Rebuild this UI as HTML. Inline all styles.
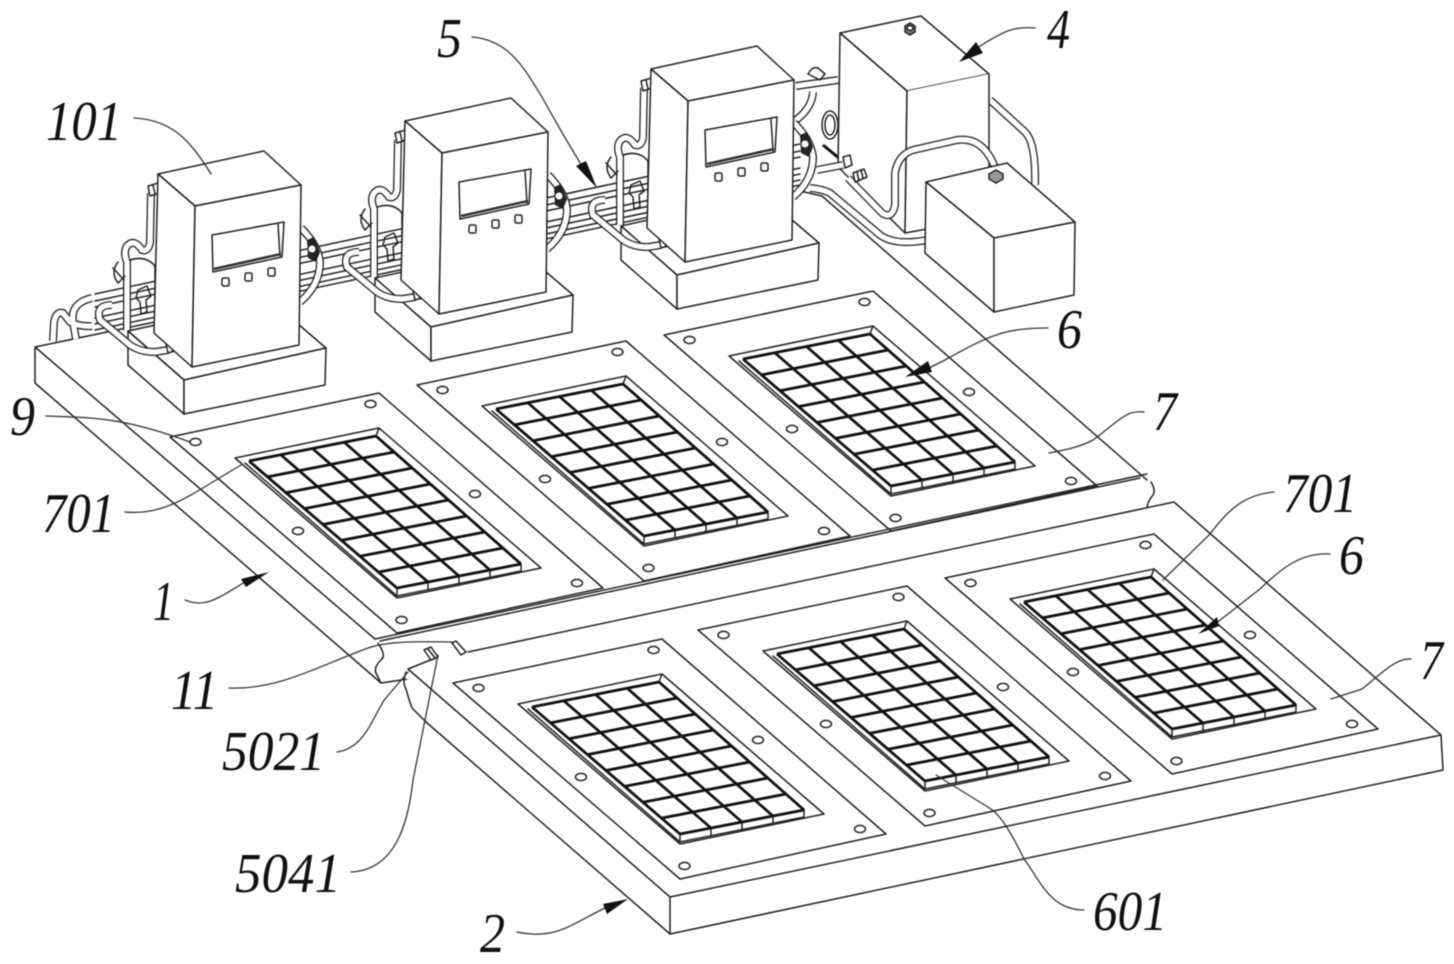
<!DOCTYPE html>
<html><head><meta charset="utf-8"><style>
html,body{margin:0;padding:0;background:#fff}
svg{display:block;filter:blur(.4px)}
.l{fill:none;stroke:#222;stroke-width:1.5;stroke-linejoin:round;stroke-linecap:round}
.w{fill:#fff;stroke:#222;stroke-width:1.5;stroke-linejoin:round}
.g{fill:none;stroke:#111;stroke-width:2.8}
.t{fill:none;stroke:#333;stroke-width:1.3;stroke-linecap:round}
text{font-family:"Liberation Serif",serif;font-style:italic;font-size:56px;fill:#111}
</style></head><body>
<svg width="1454" height="964" viewBox="0 0 1454 964" xmlns="http://www.w3.org/2000/svg">
<defs>
<g id="panel">
<polygon class="w" points="945,578 1154,534 1378,729 1172,774"/>
<polygon class="w" points="1010,599 1154,569 1316,709 1172,739"/>
<ellipse class="w" cx="970.5" cy="583" rx="5.5" ry="3.6" stroke-width="1.8"/>
<ellipse class="w" cx="1145.5" cy="545" rx="5.5" ry="3.6" stroke-width="1.8"/>
<ellipse class="w" cx="1250" cy="635" rx="5.5" ry="3.6" stroke-width="1.8"/>
<ellipse class="w" cx="1352" cy="724" rx="5.5" ry="3.6" stroke-width="1.8"/>
<ellipse class="w" cx="1176.5" cy="761" rx="5.5" ry="3.6" stroke-width="1.8"/>
<ellipse class="w" cx="1073" cy="672" rx="5.5" ry="3.6" stroke-width="1.8"/>
<path class="l" d="M1154,569 L1151,577 M1020,604 L1172,737 L1296,712 L1296,705 M1172,729 V737 M1203,723 V731 M1234,717 V725 M1265,711 V719"/>
<path class="g" d="M1024,602L1151,577M1042.5,617.9L1169.1,593M1061,633.8L1187.3,609M1079.5,649.6L1205.4,625M1098,665.5L1223.5,641M1116.5,681.4L1241.6,657M1135,697.3L1259.8,673M1153.5,713.1L1277.9,689M1172,729L1296,705"/>
<path class="g" d="M1024,602L1172,729M1055.75,595.75L1203,723M1087.5,589.5L1234,717M1119.25,583.25L1265,711M1151,577L1296,705"/>
</g>
<g id="cabpipe">
<path d="M151,193 L150,243 Q148,252 142,250 Q134,238 127,246 Q123,252 127,262 L127,330"/>
<path d="M112,305 Q95,305 100,320 L130,345 Q140,352 155,352 L168,350"/>
</g>
<g id="cabside">
<path d="M301,228 Q318,245 320,262 Q320,285 300,302"/>
</g>
<g id="cab">
<use href="#cabside" fill="none" stroke="#222" stroke-width="8"/>
<use href="#cabside" fill="none" stroke="#fff" stroke-width="5.4"/>
<polygon points="307,240 314,237 320,252 316,262 308,258" fill="#222"/>
<circle cx="312" cy="249" r="3.5" fill="#fff"/>
<polygon class="w" points="128,331 270,300 326,348 184,380"/>
<polygon class="w" points="128,331 184,380 184,414 128,365"/>
<polygon class="w" points="184,380 326,348 325,385 184,414"/>
<use href="#cabpipe" fill="none" stroke="#222" stroke-width="8"/>
<use href="#cabpipe" fill="none" stroke="#fff" stroke-width="5.4"/>
<path class="l" d="M118,262 Q110,272 118,283 L125,276 M130,260 Q146,255 155,266 V315 M113,268 L124,280"/>
<path class="l" d="M138,290 L147,286 L151,296 L146,300 L147,312 L141,314 L140,302 L136,298 Z"/>
<polygon class="w" points="166,344 182,340 186,347 168,353"/>
<path class="l" d="M171,343 L173,352 M176,342 L178,350 M181,340 L183,348"/>
<polygon class="w" points="148,186 162,182 165,191 150,196"/>
<path class="l" d="M153,185 L155,194 M158,184 L160,192"/>
<polygon class="w" points="158,174 264,151 301,185 195,206"/>
<polygon class="w" points="158,174 195,206 192,367 154,333"/>
<polygon class="w" points="195,206 301,185 299,345 192,367"/>
<polygon class="w" points="212,235 284,222 282,257 213,272"/>
<path class="l" d="M278,224 L280,256" />
<path d="M214,269 L281,254" stroke="#333" stroke-width="2.6" fill="none"/>
<rect class="w" x="222" y="278" width="7" height="8" rx="1.5" stroke-width="1.8"/>
<rect class="w" x="245" y="273" width="7" height="8" rx="1.5" stroke-width="1.8"/>
<rect class="w" x="268" y="268" width="7" height="8" rx="1.5" stroke-width="1.8"/>
</g>
<g id="tp">
<path d="M53,341 L54,322 Q56,311 63,313 L70,322 Q80,327 92,326"/>
<path d="M76,339 L73,322 Q70,303 92,298"/>
<path d="M796,120 Q812,108 813,92"/>
<path d="M990,100 L1025,132 Q1036,143 1035,185"/>
<path d="M796,86 L838,80"/>
</g>
<g id="tp2">
<path d="M848,178 L882,213 Q892,220 895,205 L895,173 Q898,155 913,150 L957,140 Q985,136 997,173"/>
<path d="M810,188 Q822,189 830,193 L880,235 Q895,246 927,240"/>
<path d="M817,170 L843,165"/>
</g>
</defs>

<!-- plate 1 -->
<path class="l" d="M35,347 L375,639 M35,347 V383 L381,683 M35,347 L155,322"/>
<path class="l" d="M800,191 L822,196 L1147,480"/>
<!-- rails -->
<path class="l" d="M95,294 L800,144 M95,301 L800,151 M95,307 L800,157 M95,318 L800,168 M95,324 L800,174 M95,330 L800,180 M155,322 L800,185"/>

<!-- panels back row -->
<use href="#panel" transform="translate(-775,-141)"/>
<use href="#panel" transform="translate(-528,-193)"/>
<use href="#panel" transform="translate(-281,-243)"/>
<path class="l" d="M375,639 L1147,474 M380,641 L1140,478"/>
<path class="l" d="M378,643 Q386,655 382,659 Q372,668 377,675 L381,683 L408,679"/>
<path class="l" d="M1151,482 Q1156,490 1153,495 Q1147,502 1147,509"/>

<!-- plate 2 -->
<polygon fill="#fff" points="408,669 468,652 1174,502 1441,734 1443,770 670,934 426,722 406,689"/>
<path class="l" d="M408,669 L438,657 M468,652 L1174,502 L1441,735 L670,897 L408,669 M1441,735 L1443,770 L670,934 V897 M670,934 L426,722"/>
<path class="l" d="M406,672 Q402,682 406,689 Q409,700 412,708 L426,722"/>
<polygon class="w" points="424,650 431,647 438,657 431,660"/>
<path class="l" d="M428,649 L435,658"/>
<polygon class="w" points="452,643 456,641 466,652 461,655"/>

<use href="#panel" transform="translate(-492,105)"/>
<use href="#panel" transform="translate(-247,52)"/>
<use href="#panel"/>

<!-- tank pipes behind -->
<use href="#tp" fill="none" stroke="#222" stroke-width="8"/>
<use href="#tp" fill="none" stroke="#fff" stroke-width="5.4"/>
<path class="l" d="M808,74 Q812,66 818,68 L825,74 L820,80 Z"/>
<ellipse class="w" cx="830" cy="125" rx="8" ry="14"/>
<ellipse class="l" cx="830" cy="125" rx="5" ry="10"/>
<path d="M823,145 L845,163" stroke="#111" stroke-width="3" fill="none"/>

<!-- cabinets -->
<use href="#cab"/>
<use href="#cab" transform="translate(247,-53)"/>
<use href="#cab" transform="translate(493,-105)"/>

<!-- big tank -->
<polygon class="w" points="840,33 921,16 989,74 907,91"/>
<polygon class="w" points="840,33 907,91 905,233 838,167"/>
<polygon fill="#fff" points="907,91 989,74 989,215 905,233"/>
<path class="l" d="M907,91 L905,233 L927,229 M989,74 V168"/>
<path d="M905,26 l5,-3 l5,3 v6 l-5,3 l-5,-3z" fill="#777" stroke="#222" stroke-width="1.5"/>
<ellipse class="w" cx="910" cy="28" rx="3" ry="2.4"/>
<!-- pipes in front of tank -->
<use href="#tp2" fill="none" stroke="#222" stroke-width="8"/>
<use href="#tp2" fill="none" stroke="#fff" stroke-width="5.4"/>
<polygon class="w" points="843,157 850,155 852,165 845,168"/>
<polygon class="w" points="853,173 864,169 867,177 855,182"/>
<path class="l" d="M857,172 L859,181 M861,170 L863,178"/>
<polygon class="w" points="927,236 936,232 940,242 929,247"/>
<path class="l" d="M931,234 L933,245 M935,233 L937,243"/>
<!-- small tank -->
<polygon class="w" points="926,182 1007,163 1075,222 994,238"/>
<polygon class="w" points="926,182 994,238 994,312 925,253"/>
<polygon class="w" points="994,238 1075,222 1074,295 994,312"/>
<path d="M989,174 l7,-4 l7,4 v5 l-7,4 l-7,-4z" fill="#999" stroke="#222" stroke-width="1.5"/>

<!-- leaders -->
<path class="t" d="M134,118 C172,120 190,140 211,174"/>
<path class="t" d="M472,37 C510,40 525,70 542,97 C560,130 575,155 592,182"/>
<path class="t" d="M1035,28 C1015,26 1005,30 977,48"/>
<path class="t" d="M1048,328 C1005,328 990,335 945,360 L925,370"/>
<path class="t" d="M1144,412 C1126,410 1120,420 1093,440 C1080,447 1065,450 1049,453"/>
<path class="t" d="M46,416 C90,418 120,416 190,442"/>
<path class="t" d="M125,512 C165,516 190,495 241,465"/>
<path class="t" d="M185,600 C205,608 215,600 245,582"/>
<path class="t" d="M229,688 C280,690 320,665 371,647 C395,640 430,642 454,642"/>
<path class="t" d="M337,752 C365,748 372,718 385,699 L408,672"/>
<path class="t" d="M351,872 C395,870 408,825 413,780 L438,655"/>
<path class="t" d="M517,932 C555,940 570,925 605,908"/>
<path class="t" d="M1084,910 C1050,910 1040,880 1024,859 C1010,830 1000,815 991,809 L936,775"/>
<path class="t" d="M1274,492 C1240,495 1225,515 1209,535 L1163,580"/>
<path class="t" d="M1330,554 C1300,552 1280,570 1260,589 L1215,624"/>
<path class="t" d="M1411,659 C1395,658 1380,675 1362,689 L1331,699"/>
<!-- arrowheads -->
<polygon points="597,188 576,166 586,161" fill="#111"/>
<polygon points="959,62 976,42 983,53" fill="#111"/>
<polygon points="905,377 928,361 932,372" fill="#111"/>
<polygon points="269,572 241,579 246,587" fill="#111"/>
<polygon points="628,899 603,904 607,914" fill="#111"/>
<polygon points="1198,634 1217,617 1219,626" fill="#111"/>

<!-- labels -->
<text x="46" y="140" textLength="76" lengthAdjust="spacingAndGlyphs">101</text>
<text x="437" y="57" textLength="25" lengthAdjust="spacingAndGlyphs">5</text>
<text x="1047" y="48" textLength="23" lengthAdjust="spacingAndGlyphs">4</text>
<text x="1057" y="348" textLength="25" lengthAdjust="spacingAndGlyphs">6</text>
<text x="1153" y="430" textLength="24" lengthAdjust="spacingAndGlyphs">7</text>
<text x="42" y="532" textLength="73" lengthAdjust="spacingAndGlyphs">701</text>
<text x="10" y="435" textLength="25" lengthAdjust="spacingAndGlyphs">9</text>
<text x="153" y="620" textLength="21" lengthAdjust="spacingAndGlyphs">1</text>
<text x="171" y="709" textLength="47" lengthAdjust="spacingAndGlyphs">11</text>
<text x="222" y="770" textLength="103" lengthAdjust="spacingAndGlyphs">5021</text>
<text x="235" y="892" textLength="106" lengthAdjust="spacingAndGlyphs">5041</text>
<text x="480" y="952" textLength="25" lengthAdjust="spacingAndGlyphs">2</text>
<text x="1093" y="930" textLength="74" lengthAdjust="spacingAndGlyphs">601</text>
<text x="1283" y="512" textLength="74" lengthAdjust="spacingAndGlyphs">701</text>
<text x="1339" y="574" textLength="25" lengthAdjust="spacingAndGlyphs">6</text>
<text x="1420" y="679" textLength="23" lengthAdjust="spacingAndGlyphs">7</text>
</svg>
</body></html>
